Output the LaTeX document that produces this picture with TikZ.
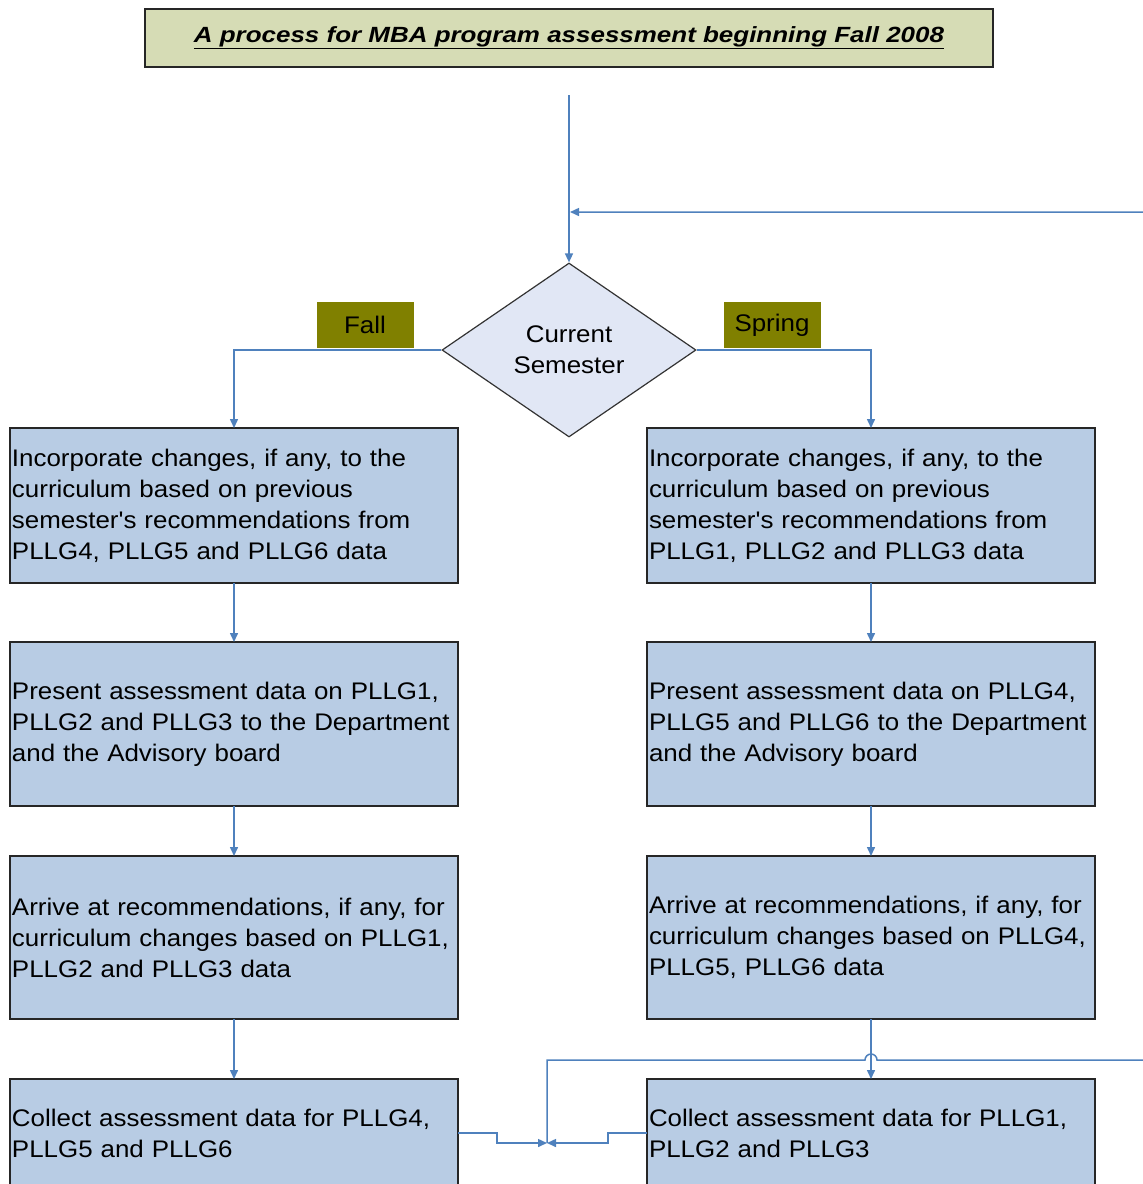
\documentclass[tikz,border=0pt]{standalone}
\usepackage{fontspec}
\setmainfont{Liberation Sans}
\newfontfamily\boxfont[FakeStretch=1.08]{Liberation Sans}
\newfontfamily\headfont[FakeStretch=1.18]{Liberation Sans}
\usetikzlibrary{positioning,arrows.meta,shapes.geometric}
\usepackage{xcolor}
\definecolor{BoxBlue}{HTML}{B8CCE4}
\definecolor{LineBlue}{HTML}{4F81BD}
\definecolor{SoftLilac}{HTML}{E1E7F5}
\definecolor{SoftOlive}{HTML}{D6DCB5}
\definecolor{DarkOlive}{HTML}{808000}
\tikzset{
  procbox/.style={draw=black!85,fill=BoxBlue,line width=1.3pt,minimum height=#1,outer sep=0pt,
    text width=444pt,inner xsep=2pt,inner ysep=0pt,align=left,
    font=\boxfont\fontsize{24}{31}\selectfont},
  semlabel/.style={fill=DarkOlive,minimum width=97pt,minimum height=46pt,inner sep=0pt,
    font=\boxfont\fontsize{24}{31}\selectfont},
  flow/.style={draw=LineBlue,line width=1.5pt,-{Triangle[length=9pt,width=8pt]}}
}

\begin{document}
\begin{tikzpicture}[x=1pt,y=1pt]
\useasboundingbox (0,0) rectangle (1143,-1184);
\clip (0,0) rectangle (1143,-1184);
\node[draw=black!85,fill=SoftOlive,line width=1.3pt,minimum width=848pt,minimum height=58pt,
  font=\headfont\fontsize{22}{26}\selectfont\bfseries\itshape] (title) at (569,-38)
  {\underline{A process for MBA program assessment beginning Fall 2008}};
\coordinate (start) at (569,-95);
\coordinate (topin) at (570,-212);
\coordinate (back) at (1160,-1060);
\node[diamond,draw=black!80,fill=SoftLilac,line width=1.2pt,aspect=1.46,minimum width=254pt,
  minimum height=174pt,inner sep=0pt,align=center,font=\boxfont\fontsize{24}{31}\selectfont]
  (cur) at (569,-350) {Current\\Semester};
\node[semlabel] (fall) at (365,-325) {Fall};
\node[semlabel] (spring) at (772,-325) {Spring};
% fall column
\node[procbox=155pt,anchor=north west] (lfa) at (10,-428)
  {Incorporate changes, if any, to the\\curriculum based on previous\\semester's recommendations from\\PLLG4, PLLG5 and PLLG6 data};
\node[procbox=164pt,below=59pt of lfa] (lpr)
  {Present assessment data on PLLG1,\\PLLG2 and PLLG3 to the Department\\and the Advisory board};
\node[procbox=163pt,below=50pt of lpr] (lar)
  {Arrive at recommendations, if any, for\\curriculum changes based on PLLG1,\\PLLG2 and PLLG3 data};
\node[procbox=108pt,below=60pt of lar] (lco)
  {Collect assessment data for PLLG4,\\PLLG5 and PLLG6};
% spring column
\node[procbox=155pt,anchor=north west] (rfa) at (647,-428)
  {Incorporate changes, if any, to the\\curriculum based on previous\\semester's recommendations from\\PLLG1, PLLG2 and PLLG3 data};
\node[procbox=164pt,below=59pt of rfa] (rpr)
  {Present assessment data on PLLG4,\\PLLG5 and PLLG6 to the Department\\and the Advisory board};
\node[procbox=163pt,below=50pt of rpr] (rar)
  {Arrive at recommendations, if any, for\\curriculum changes based on PLLG4,\\PLLG5, PLLG6 data};
\node[procbox=108pt,below=60pt of rar] (rco)
  {Collect assessment data for PLLG1,\\PLLG2 and PLLG3};
\coordinate (join) at (547,-1143);
\draw[flow] (start) -- (cur.north);
\draw[flow] (cur.west) -| (lfa.north);
\draw[flow] (cur.east) -| (rfa.north);
\draw[flow] (lfa) -- (lpr);
\draw[flow] (lpr) -- (lar);
\draw[flow] (lar) -- (lco);
\draw[flow] (rfa) -- (rpr);
\draw[flow] (rpr) -- (rar);
\draw[flow] (rar) -- (rco);
\draw[flow] (lco.east) -- ++(39,0) |- (join);
\draw[flow] (rco.west) -- ++(-39,0) |- (join);
% loop back to the top
\draw[flow] (join) |- ([xshift=-6pt]rar.south |- back) arc[start angle=180,end angle=0,radius=6pt]
  -- (back) |- (topin);
\end{tikzpicture}
\end{document}
